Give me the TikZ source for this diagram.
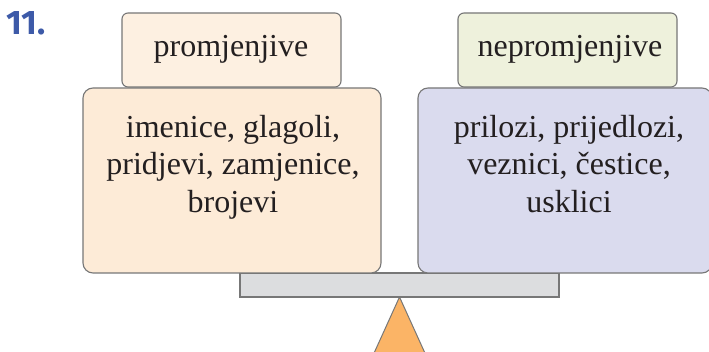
\documentclass[tikz,border=0pt]{standalone}
\usepackage{fontspec}
\setmainfont{Liberation Serif}
\newfontfamily\numfont{Fira Sans}
\definecolor{txt}{HTML}{231F20}
\definecolor{edge}{HTML}{777777}
\definecolor{lsmall}{HTML}{FDF0E1}
\definecolor{lbig}{HTML}{FDEBD7}
\definecolor{rsmall}{HTML}{EEF1DC}
\definecolor{rbig}{HTML}{DADBEE}
\definecolor{barc}{HTML}{DCDDDF}
\definecolor{tric}{HTML}{FBB466}
\definecolor{numc}{HTML}{3D5AA8}
\begin{document}
\begin{tikzpicture}[x=1pt,y=-1pt,
  box/.style={draw=edge,line width=1.1pt},
  lbl/.style={font=\fontsize{32}{37.5}\selectfont,text=txt,inner sep=0pt,align=center}]
\useasboundingbox (0,0) rectangle (709,352);
\fill[white] (0,0) rectangle (709,352);
\node[font=\numfont\bfseries\fontsize{34}{36}\selectfont,text=numc,anchor=base west,inner sep=0pt] (num) at (6,35) {11.};
\begin{scope}
\clip (0,0) rectangle (709,352);
\fill[tric,draw=edge,line width=1pt] (399.5,297) -- (429,362) -- (370,362) -- cycle;
\draw[box,fill=barc] (240,273) rectangle (559,297);
\draw[box,fill=lbig,rounded corners=10pt] (83,88) rectangle (381,273);
\draw[box,fill=rbig,rounded corners=10pt] (418,88) rectangle (712,273);
\draw[box,fill=lsmall,rounded corners=6pt] (122,13) rectangle (341,87);
\draw[box,fill=rsmall,rounded corners=6pt] (458,13) rectangle (677,87);
\end{scope}
\node[lbl,anchor=base] (pl) at (231,57) {promjenjive};
\node[lbl,anchor=base] (pr) at (570,57) {nepromjenjive};
\node[lbl] (bl) at (233,167) {imenice, glagoli,\\pridjevi, zamjenice,\\brojevi};
\node[lbl] (br) at (569,164) {prilozi, prijedlozi,\\veznici, čestice,\\usklici};
\end{tikzpicture}
\end{document}
